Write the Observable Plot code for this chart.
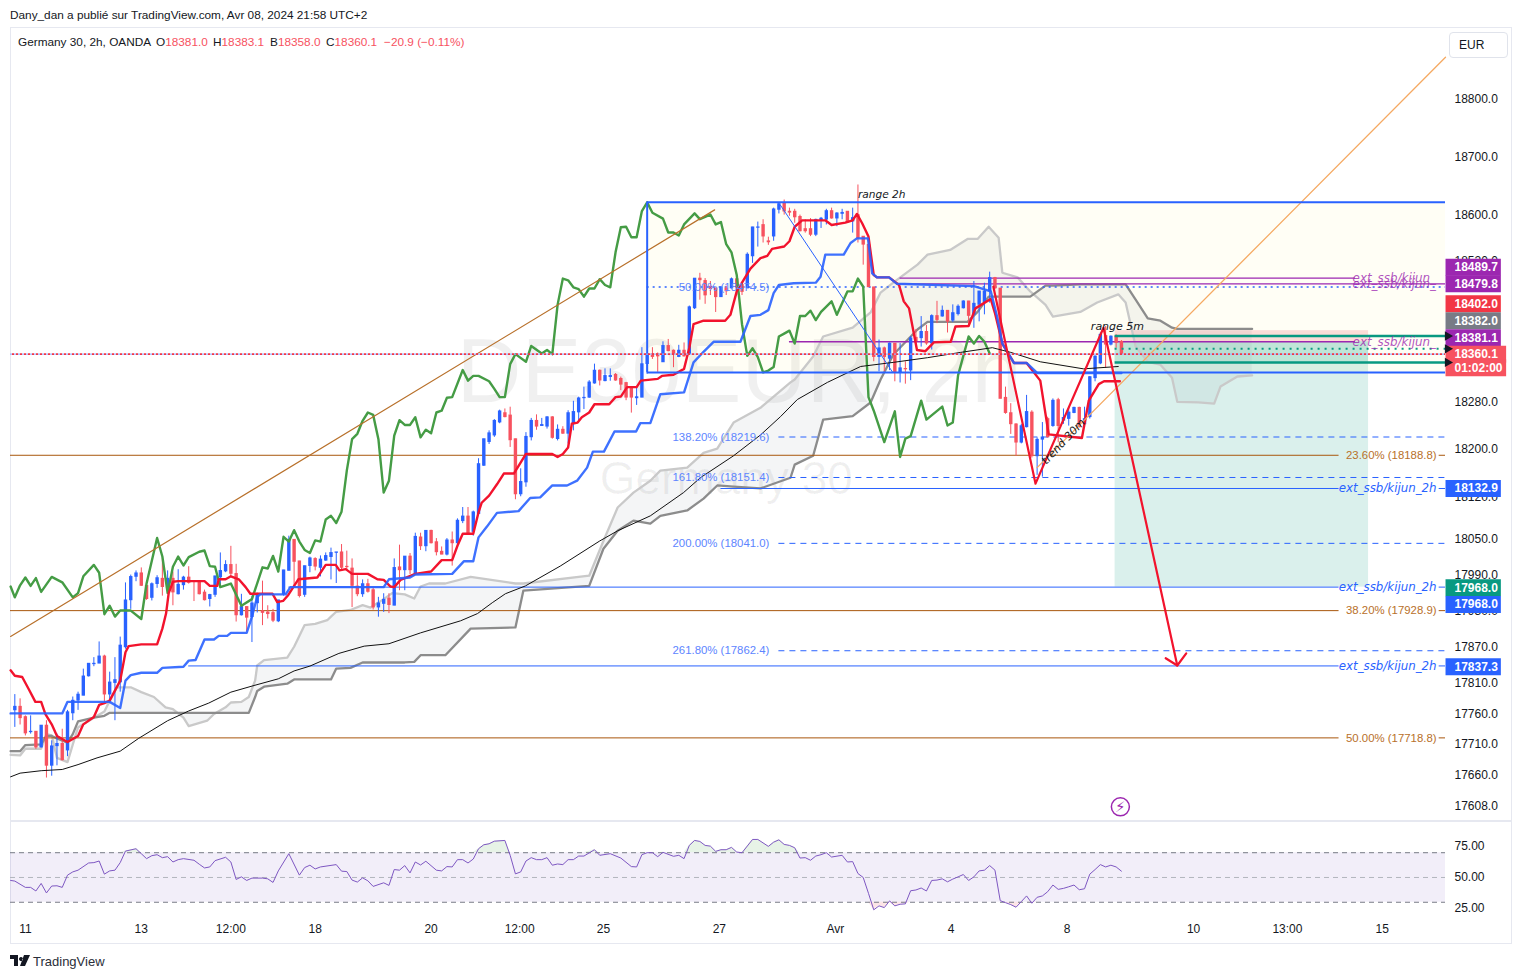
<!DOCTYPE html>
<html lang="fr"><head><meta charset="utf-8">
<script src="https://cdn.jsdelivr.net/npm/d3@7"></script>
<script src="https://cdn.jsdelivr.net/npm/@observablehq/plot@0.6"></script>
<style>
html,body{margin:0;padding:0;background:#fff;overflow:hidden;font-family:"Liberation Sans",sans-serif;color:#131722}
#page{position:relative;width:1521px;height:979px}
#page>*{position:absolute}
#frame{left:10px;top:27px;width:1500px;height:915px;border:1.5px solid #e6e8f0}
#sep{left:10px;top:820px;width:1501px;height:1.5px;background:#e6e8f0}
#pub{left:10px;top:8px;font-size:11.8px;white-space:nowrap}
#legend{left:0;top:35px;font-size:11.8px;height:15px;width:500px}
#legend span{position:absolute;white-space:nowrap}
#legend .r{color:#f7525f}
#cur{left:1449px;top:32px;width:57px;height:24px;border:1px solid #e0e3eb;border-radius:4px;font-size:12px;line-height:24px;text-indent:9px}
#foot{left:33px;top:954px;font-size:13px;color:#2a2e39}
#logo{left:10px;top:955px}
svg.plot{background:transparent;max-width:none;overflow:visible}
</style></head><body>
<div id="page">
<div id="frame"></div>
<div id="main" style="left:0;top:0"></div>
<div id="rsi" style="left:0;top:820px"></div>
<div id="sep"></div>
<div id="pub">Dany_dan a publié sur TradingView.com, Avr 08, 2024 21:58 UTC+2</div>
<div id="legend">
<span style="left:18px">Germany 30, 2h, OANDA</span>
<span style="left:156px">O<b class="r" style="font-weight:400">18381.0</b></span>
<span style="left:213px">H<b class="r" style="font-weight:400">18383.1</b></span>
<span style="left:270px">B<b class="r" style="font-weight:400">18358.0</b></span>
<span style="left:326px">C<b class="r" style="font-weight:400">18360.1</b></span>
<span class="r" style="left:384px">−20.9 (−0.11%)</span>
</div>
<div id="cur">EUR</div>
<svg id="logo" width="20" height="11" viewBox="0 0 20 11"><path d="M0 0h8v11H4V4H0zM9 4a2 2 0 1 0 0-.1zM14 0h6l-5 11h-5z" fill="#131722"/></svg>
<div id="foot">TradingView</div>
</div>
<script>
const FONT = '"Liberation Sans", sans-serif';
const ITALIC = '"DejaVu Sans", sans-serif';

// ---------- candles (2h bars, bar index 0..210)
const open = [17764,17770,17753,17728,17729,17703,17739,17673,17705,17709,17698,17759,17780,17788,17820,17840,17841,17853,17790,17809,17810,17868,17946,17985,17991,17970,17950,17973,17982,17966,17982,17956,17971,17984,17978,17976,17959,17948,17955,17984,17994,18005,17990,17921,17935,17918,17941,17928,17926,17925,17911,17956,17995,18047,18011,17955,18003,18015,18000,18012,18018,18025,18026,18002,17999,17969,17956,17973,17963,17934,17940,17949,17937,18001,17996,18019,17990,
18051,18036,18062,18043,18027,18022,18046,18041,18078,18086,18060,18090,18171,18211,18222,18244,18260,18256,18216,18123,18143,18219,18247,18238,18237,18253,18216,18232,18225,18242,18261,18285,18286,18310,18332,18314,18321,18325,18318,18311,18304,18285,18286,18343,18360,18360,18346,18374,18366,18355,18366,18360,18438,18489,18485,18475,18472,18457,18472,18472,18488,18478,18472,18527,18576,
18581,18553,18561,18607,18618,18604,18604,18595,18574,18574,18564,18589,18590,18605,18592,18600,18604,18587,18598,18561,18547,18474,18355,18370,18352,18378,18328,18335,18332,18388,18387,18398,18378,18425,18424,18434,18417,18428,18438,18450,18427,18444,18448,18467,18490,18472,18286,18260,18241,18210,18236,18261,18187,18215,18250,18238,18282,18247,18250,18260,18269,18241,18253,18319,18344,18391,18376,18390,18381];
const close = [17770,17751,17726,17729,17703,17739,17673,17705,17709,17682,17761,17780,17790,17820,17841,17841,17853,17790,17810,17814,17871,17946,17985,17991,17970,17948,17973,17983,17968,17982,17959,17972,17984,17975,17977,17956,17946,17955,17986,17995,18005,17990,17921,17935,17917,17941,17955,17925,17923,17912,17946,17996,18047,18010,17953,18003,18016,18002,18014,18020,18025,18026,18000,18001,17970,17956,17973,17960,17934,17941,17947,17938,18000,17996,18019,17996,18052,
18036,18062,18041,18026,18022,18046,18041,18079,18086,18057,18093,18174,18216,18226,18247,18263,18253,18214,18123,18144,18220,18247,18237,18240,18253,18218,18232,18225,18260,18262,18285,18286,18312,18332,18315,18323,18323,18315,18308,18286,18286,18287,18343,18360,18355,18356,18374,18365,18359,18366,18356,18440,18489,18486,18460,18471,18457,18474,18467,18488,18472,18466,18530,18577,18577,
18561,18551,18608,18617,18604,18602,18594,18570,18570,18564,18590,18592,18605,18592,18601,18602,18585,18593,18558,18547,18474,18355,18370,18355,18378,18328,18336,18334,18387,18382,18398,18378,18425,18418,18434,18415,18430,18441,18450,18425,18446,18467,18467,18490,18472,18284,18260,18241,18210,18238,18262,18187,18215,18219,18219,18281,18238,18252,18261,18269,18236,18250,18321,18356,18393,18376,18390,18379,18360.1];
const high = [17790,17783,17755,17755,17729,17739,17747,17714,17725,17733,17764,17786,17794,17832,17841,17851,17877,17855,17827,17851,17885,17975,17988,17995,18000,17972,17975,17987,18016,17995,17993,17997,17986,18002,17979,17977,17963,17956,17986,18025,18012,18036,18006,17956,17935,17953,17958,17978,17937,17931,17946,17996,18053,18047,18011,18003,18018,18017,18020,18025,18033,18026,18039,18028,18015,17987,17980,17981,17966,17951,17957,17957,18015,18038,18019,18024,18058,
18058,18062,18063,18049,18035,18049,18060,18082,18101,18101,18095,18183,18216,18230,18249,18265,18267,18270,18216,18166,18227,18251,18257,18251,18254,18254,18240,18237,18264,18280,18287,18304,18315,18343,18333,18335,18335,18327,18321,18312,18304,18304,18371,18362,18371,18362,18381,18385,18367,18375,18379,18442,18489,18498,18489,18484,18473,18475,18476,18490,18492,18480,18533,18577,18586,
18590,18560,18610,18618,18624,18610,18608,18598,18590,18592,18591,18594,18608,18610,18602,18608,18604,18610,18650,18561,18550,18474,18384,18372,18379,18378,18378,18347,18390,18402,18424,18409,18427,18450,18442,18434,18444,18444,18451,18450,18484,18467,18481,18500,18491,18472,18304,18276,18242,18241,18290,18264,18218,18244,18253,18284,18285,18267,18270,18270,18270,18270,18322,18357,18396,18407,18391,18393,18383.1];
const low = [17736,17740,17722,17725,17700,17702,17653,17656,17673,17681,17688,17747,17764,17788,17819,17836,17841,17775,17775,17747,17794,17865,17931,17977,17969,17946,17945,17966,17953,17965,17937,17955,17963,17973,17944,17955,17945,17935,17951,17966,17992,17986,17910,17920,17894,17876,17925,17904,17915,17909,17909,17953,17995,17970,17950,17951,17992,17995,17985,18011,17980,17974,17995,17995,17934,17952,17951,17958,17930,17918,17926,17924,17937,17962,17962,17989,17990,
18029,18027,18040,18020,18022,18020,18003,18035,18074,18057,18053,18090,18170,18207,18219,18242,18252,18202,18114,18119,18135,18213,18231,18238,18233,18216,18213,18224,18208,18230,18247,18266,18285,18309,18306,18313,18314,18314,18298,18281,18260,18273,18286,18326,18351,18329,18346,18364,18337,18354,18355,18360,18436,18452,18445,18460,18431,18457,18460,18471,18460,18460,18472,18515,18543,
18550,18546,18553,18600,18598,18596,18584,18569,18567,18561,18561,18575,18581,18591,18578,18590,18584,18567,18550,18512,18474,18347,18330,18330,18332,18313,18311,18309,18315,18378,18372,18375,18367,18412,18423,18396,18414,18425,18437,18407,18404,18415,18427,18447,18470,18284,18258,18224,18187,18208,18235,18184,18155,18152,18218,18236,18210,18241,18238,18259,18235,18235,18250,18313,18342,18336,18374,18370,18358];

// ---------- Ichimoku and moving average (bar index, price)
const tenkanX = [-0.8,0,1.4,2.7,3.9,5,5.8,7,8,10,12,13,15,16,17,18,20,21,21.6,24,27,28,28.7,29.2,30,31,36,37,38.4,38.7,40,41,42.5,43.8,44.7,48.9,49.8,50.9,51.9,53.8,57.4,59,60.9,61.6,62.8,64,67,68.8,70,71.3,72,73.2,76,79,81,83,84,85,87,88,88.6,90,91.5,92.8,94.7,97,102,103,104,105,105.7,106.8,107.6,109,110,112.8,114,115,116.2,118,118.8,122,122.8,125,127,128,128.8,130.7,134.8,135.8,137,139.6,141.5,142.8,143.7,146,147,148,149.4,153.8,155,157.6,159,159.8,160.8,162,163,163.6,165.9,167.8,168.7,169.7,171.2,172.8,174.4,177.6,178.5,181,182.3,183.9,185.2,186,187.4,189.6,192,194.6,196.2,202.5,203.8,205.7,206.7,209.7];
const tenkanP = [17830,17821,17819,17798,17778,17778,17758,17741,17722,17712,17722,17741,17753,17773,17776,17780,17813,17860,17870,17873,17873,17899,17924,17958,17977,17978,17978,17970,17970,17981,17981,17986,17981,17968,17957,17957,17943,17945,17955,17981,17984,18005,18005,17996,17998,17990,17990,17981,17980,17969,17968,17980,17990,17994,18013,18013,18037,18057,18057,18093,18109,18121,18140,18158,18158,18191,18191,18186,18191,18202,18242,18244,18253,18261,18275,18275,18287,18288,18304,18304,18315,18318,18323,18325,18335,18371,18411,18417,18417,18427,18467,18506,18524,18528,18540,18544,18553,18578,18589,18589,18581,18585,18589,18600,18584,18561,18495,18491,18491,18478,18450,18438,18367,18365,18380,18381,18407,18408,18438,18447,18454,18430,18378,18345,18345,18315,18224,18218,18281,18309,18314,18314];
const kijunX = [-0.8,9,10,18,20,21,22,24,27,28,32,33,34.3,36,37.8,38.7,40.3,41,44,45,46,46.6,51.4,52.3,70,71,75,76,83,85.2,87,88,89.6,91.5,95.6,97.8,99.7,102,104.8,106.7,108.6,109.7,111.8,113.8,117.9,118.7,120.6,122.5,127,128.8,130.7,132.6,137.7,139.6,141.5,143,144,145,147.8,152,152.9,153.8,157.3,158.6,159.8,161.9,162.7,163.6,165.9,167.4,182,185.2,186.4,187.4,189.6,192,194,210];
const kijunP = [17759,17759,17778,17778,17768,17813,17822,17826,17826,17834,17836,17846,17847,17881,17881,17887,17887,17892,17892,17919,17952,17956,17956,17968,17968,17981,17984,17989,17990,18011,18011,18051,18069,18092,18095,18117,18118,18138,18138,18146,18168,18195,18195,18229,18229,18243,18243,18292,18295,18346,18364,18381,18381,18425,18427,18435,18464,18478,18481,18482,18492,18530,18530,18550,18558,18558,18498,18491,18491,18480,18476,18467,18424,18378,18345,18345,18328,18328];
const chikouX = [-0.8,0,1,2,3,4,5,7,9,11,12,13,15,16,17,18,19,20,22,24,25,27,28,29,30,31,32,33,35,36,37,38,39,41,43,45,47,48,49,50,51,52,53,54,55,56,57,58,59,60,61,62,63,64,65,66,67,68,69,70,71,72,73,74,75,76,77,78,79,80,81,82,83,85,86,87,88,90,91,92,93,94,95,97,98,100,101,102,103,104,105,106,107,108,109,110,111,112,113,114,115,116,117,118,119,120,121,123,124,125,126,127,129,130,132,133,134,135,136,137,138,139,140,141,142,143,144,145,146,147,148,149,150,151,152,153,155,156,158,159,160,161,162,163,165,167,168,169,170,172,173,176,177,178,179,181,182,183,184,185];
const chikouP = [17969,17951,17971,17984,17970,17983,17960,17985,17976,17951,17958,17986,18005,17992,17923,17937,17919,17929,17929,17915,17974,18050,18019,17958,18002,18019,18004,18018,18027,18029,18003,18002,17968,17974,17937,17948,18001,17999,18020,17994,18052,18044,18063,18044,18030,18025,18046,18044,18081,18087,18075,18094,18163,18216,18225,18247,18261,18257,18216,18126,18146,18222,18248,18240,18240,18253,18219,18232,18226,18261,18264,18286,18287,18333,18315,18323,18323,18314,18301,18287,18287,18343,18360,18347,18374,18361,18367,18360,18444,18489,18486,18474,18471,18458,18472,18472,18488,18478,18474,18534,18577,18578,18560,18560,18605,18620,18602,18592,18568,18568,18563,18582,18601,18591,18599,18582,18586,18548,18534,18495,18411,18357,18370,18355,18329,18332,18338,18390,18395,18400,18378,18425,18425,18434,18418,18432,18450,18427,18467,18467,18489,18475,18287,18264,18211,18263,18186,18217,18221,18281,18249,18271,18239,18244,18324,18390,18378,18391,18381,18361];
const cloudX = [-0.8,1,2,5,6,7,8,10,11,12,15,17,18,19.4,22,24,26.4,28.6,30,32,33,36.5,37.8,40,41,43,44.4,45.6,46,47.3,51.7,53,55,57,59.3,60,61,63.7,66,67.5,70,71.6,74,75.8,77,78.6,81.7,86.5,95,96.5,109,111.7,114.4,117.4,120.6,122.5,127.6,130.7,133.3,136.4,141.5,147.2,148,151.5,153.4,159,162.4,164.3,166.7,171.3,173.2,177.5,180.8,182.7,184.8,186.7,187.4,190.3,192.7,195.6,197,202.2,205.4,209.4,210.8,212.7,215,217.4,219.6,220.6,224.6,227.6,228.8,232,234.8];
const spanA = [17691,17690,17701,17701,17725,17723,17686,17679,17708,17736,17752,17762,17780,17802,17802,17794,17786,17769,17766,17752,17738,17747,17758,17769,17777,17778,17786,17813,17838,17847,17851,17869,17905,17907,17913,17919,17927,17930,17938,17934,17948,17958,17956,17949,17969,17974,17974,17985,17974,17974,17987,18045,18101,18126,18146,18163,18168,18193,18200,18244,18269,18312,18317,18356,18390,18405,18431,18465,18482,18513,18530,18538,18557,18557,18578,18559,18499,18491,18467,18444,18424,18432,18448,18462,18448,18373,18347,18342,18320,18279,18278,18276,18305,18322,18324];
const spanB = [17697,17697,17707,17708,17722,17722,17718,17711,17725,17746,17752,17755,17760,17760,17760,17760,17760,17760,17760,17760,17760,17760,17760,17760,17760,17760,17760,17786,17796,17803,17808,17815,17815,17815,17815,17815,17833,17834,17843,17843,17843,17843,17843,17844,17855,17855,17855,17899,17901,17962,17970,18032,18062,18079,18074,18087,18096,18116,18138,18136,18133,18151,18173,18188,18249,18255,18278,18317,18359,18402,18415,18415,18415,18432,18458,18458,18458,18458,18458,18477,18477,18479,18479,18479,18479,18453,18421,18417,18405,18403,18403,18403,18403,18403,18403];
const emaX = [-0.8,1,5,9,12,15.6,20,23.5,29,33,36.8,41,45.4,50,53,56,61.5,66.3,71,77,84.6,87.8,90.6,93.1,96.9,103.5,111,114.4,120.6,126.9,130.1,136.4,141.5,145.3,148.5,154.2,160.5,166.7,173.2,179.5,185.5,189,194.6,202.8,209.4];
const emaP = [17655,17661,17665,17667,17675,17686,17697,17718,17747,17763,17776,17794,17805,17816,17829,17837,17858,17870,17874,17892,17912,17924,17942,17957,17970,18003,18045,18062,18087,18126,18151,18188,18223,18254,18283,18312,18339,18346,18354,18363,18371,18363,18347,18335,18339];

// ---------- drawings
const rangeTop = 18620, rangeMid = 18474.5, rangeBottom = 18329;
const fibPrice = [18219.6,18151.4,18041.0,17862.4];
const fibText = ["138.20% (18219.6)","161.80% (18151.4)","200.00% (18041.0)","261.80% (17862.4)"];
const retrPrice = [18188.8,17928.9,17718.8];
const retrText = ["23.60% (18188.8)","38.20% (17928.9)","50.00% (17718.8)"];
const extPrice = [18132.9,17968.0,17837.3];
const extStart = [134,52,33];
const purplePrice = [18489.7,18479.8,18381.1];
const purpleStart = [168,168,147];
const zigX = [185.7,193.7,206.6,220.6], zigP = [18475,18141,18405,17838];
const wingX = [218.4,220.6,222.3], wingP = [17850,17838,17858];
const greenLevels = [18391,18346];
const greenMid = 18369;
const lastPrice = 18360.1;

// ---------- price scale
const priceTicks = [18800,18700,18600,18520,18280,18200,18120,18050,17990,17930,17870,17810,17760,17710,17660,17608];
const labelText = ["18489.7","18479.8","18402.0","18382.0","18381.1","18360.1","01:02:00","18132.9","17968.0","17968.0","17837.3"];
const labelPrice = [18508.6,18480,18446,18417,18388,18360,18337,18133,17967,17939,17836];
const labelColor = ["#9c27b0","#9c27b0","#f23645","#787b86","#9c27b0","#f7525f","#f7525f","#2962ff","#089981","#2962ff","#2962ff"];
const labelEnd = [282.1,282.1,282.1,282.1,282.1,283.1,283.1,282.1,282.1,282.1,282.1];

// ---------- RSI
const rsiX = [-0.8,0,2,3,4,5,6,7,8,9,10,11,12,14,15,16,17,18,19,20,21,23,24,25,26,27,28,29,30,31,32,34,35,36,37,38,40,41,42,43,44,45,47,48,49,50,52,54,55,56,57,58,61,62,63,64,65,66,67,68,70,71,72,73,74,75,76,77,78,80,81,82,83,84,85,86,87,88,89,90,91,93,94,95,96,97,98,99,100,101,102,103,104,105,106,107,108,110,111,113,115,117,118,119,120,121,122,123,125,126,127,128,129,130,131,132,133,134,135,136,137,138,140,141,143,144,145,146,147,148,149,150,151,152,153,154,155,157,158,159,160,161,162,163,164,165,166,167,168,169,170,171,172,173,174,175,176,177,178,179,180,181,182,183,184,185,186,187,188,189,190,191,192,193,194,195,196,197,198,199,200,201,202,203,204,205,206,207,208,209,210];
const rsiV = [47.6,47.1,42,42,39.1,45.2,37.5,43.1,43.3,42,51.9,54.5,55.9,61.7,62,63.3,52.7,55.3,55.9,62,71.3,73.2,69.2,65.2,67.6,68.4,66,66.8,62.5,64.4,65.2,63.9,60.7,57.7,58.5,63.6,66.3,62.5,48.4,50.5,47.6,49.5,49.5,48.9,46,55.3,69.2,51.9,58,59.9,56.9,58.5,60.4,55.1,54.8,47.9,46.3,49.7,47.3,42.8,45.7,43.6,56.4,55.9,59.6,53.7,62.5,60.1,63.1,55.9,55.3,58.8,58.5,64.4,64.4,61.7,64.9,73.2,76.4,77.2,79.3,79.9,67.9,52.9,54.5,63.3,66,64.4,64.4,66,59.9,60.9,60.4,64.4,64.4,67.3,67.3,72.4,67.9,69.2,65.7,58.8,58.5,68.4,70,70,66.8,70.3,67.1,67.9,65.2,75.9,79.9,79.1,75.9,75.3,71.1,72.4,72.4,74.3,70.5,70,80.7,80.7,75.1,78.5,80.4,76.7,75.9,74,65.7,66,63.9,67.3,68.4,70,66.5,67.9,62.5,62.8,53.2,50,37.2,23.9,27.1,25.7,31.1,27.1,28.4,28.7,39.3,39.9,41.5,39.1,47.6,47.9,48.9,46.5,48.7,50.5,52.4,47.6,50.5,55.3,55.9,59.6,55.9,31.3,29.7,28.1,26,30.5,35.1,29.2,34,35.1,38.5,43.9,40.4,41.2,42.5,43.9,40.1,40.9,52.7,56.4,60.4,58.5,59.9,58.5,55.1];
const rsiBands = [70,50,30];
const rsiTicks = [75,50,25];

// ---------- time axis
const timeTicks = [2,24,41,57,79,95.8,111.7,133.7,155.7,177.7,199.7,223.7,241.5,259.5];
const timeLabels = ["11","13","12:00","18","20","12:00","25","27","Avr","4","8","10","13:00","15"];

// ---------- colours
const UP = "#2962ff", DOWN = "#f7525f", LINE_RED = "#f2132d", BLUE = "#2962ff", GREEN = "#459c45", BROWN = "#a8560c", PURPLE = "#9c27b0", TEAL = "#089981";
const X_MIN = -0.82, X_MAX = 271.5;

const bars = open.map((o,i)=>({i,o,c:close[i],h:high[i],l:low[i],col:close[i]>=o?UP:DOWN}));
const series = (xs,ps)=>xs.map((x,k)=>({x,p:ps[k]}));
const cloud = cloudX.map((x,k)=>({x,a:spanA[k],b:spanB[k]}));
const rules = (levels,color,opts={})=>Plot.ruleY(levels,{x1:opts.x1??X_MIN,x2:opts.x2??X_MAX,stroke:color,strokeWidth:opts.w??1,strokeDasharray:opts.dash,strokeDashoffset:opts.off});

const main = Plot.plot({
  width:1521,height:820,marginLeft:10,marginRight:76,marginTop:28,marginBottom:0,
  style:{fontFamily:FONT,fontSize:"12px",color:"#131722",background:"transparent"},
  x:{domain:[X_MIN,X_MAX],axis:null},
  y:{type:"log",domain:[17583.7,18922.3],label:null,axis:null},
  marks:[
    // range box and position
    Plot.rect([0],{x1:120,x2:X_MAX,y1:rangeBottom,y2:rangeTop,fill:"#fffef5"}),
    Plot.rect([0],{x1:208.8,x2:256.9,y1:18381,y2:18400,fill:"#f23645",fillOpacity:0.17}),
    Plot.rect([0],{x1:208.8,x2:256.9,y1:17968,y2:18381,fill:TEAL,fillOpacity:0.15}),
    Plot.rect([0],{x1:208.8,x2:256.9,y1:18346,y2:18381,fill:TEAL,fillOpacity:0.12}),
    // watermark
    Plot.text(["DE30EUR, 2h"],{x:[83.8],y:[18327],text:d=>d,textAnchor:"start",fontSize:90,fill:"#000",fillOpacity:0.06}),
    Plot.text(["Germany 30"],{x:[111],y:[18148],text:d=>d,textAnchor:"start",fontSize:46,fill:"#000",fillOpacity:0.06}),
    // cloud
    Plot.areaY(cloud,{x:"x",y1:"a",y2:"b",fill:"#787b86",fillOpacity:0.08}),
    Plot.lineY(cloud,{x:"x",y:"a",stroke:"#c9c9c9",strokeWidth:2.3}),
    Plot.lineY(cloud,{x:"x",y:"b",stroke:"#8c8c8c",strokeWidth:2.3}),
    // horizontal levels
    rules(retrPrice,BROWN,{x2:251.3}),
    rules(retrPrice,BROWN,{x1:270.3}),
    rules(extPrice.slice(0,1),BLUE,{x1:extStart[0],x2:251.3}),
    rules(extPrice.slice(1,2),BLUE,{x1:extStart[1],x2:251.3}),
    rules(extPrice.slice(2,3),BLUE,{x1:extStart[2],x2:251.3}),
    rules(extPrice,BLUE,{x1:270.3}),
    rules(fibPrice,BLUE,{x1:145,dash:"6 5"}),
    rules([rangeMid],BLUE,{x1:120,w:1.5,dash:"2 4"}),
    rules(purplePrice.slice(0,1),PURPLE,{x1:purpleStart[0],x2:254.4,w:1.3}),
    rules(purplePrice.slice(1,2),PURPLE,{x1:purpleStart[1],w:1.3}),
    rules(purplePrice.slice(2,3),PURPLE,{x1:purpleStart[2],x2:254.4,w:1.3}),
    // candles
    Plot.ruleX(bars,{x:"i",y1:"l",y2:"h",stroke:"col",strokeWidth:1}),
    Plot.ruleX(bars,{x:"i",y1:d=>Math.min(d.o,d.c)-0.6,y2:d=>Math.max(d.o,d.c)+0.6,stroke:"col",strokeWidth:3.4}),
    // indicators
    Plot.line(series(chikouX,chikouP),{x:"x",y:"p",stroke:GREEN,strokeWidth:2.4}),
    Plot.line(series(tenkanX,tenkanP),{x:"x",y:"p",stroke:LINE_RED,strokeWidth:2.4}),
    Plot.line(series(kijunX,kijunP),{x:"x",y:"p",stroke:BLUE,strokeWidth:2.4,strokeOpacity:0.9}),
    Plot.line(series(emaX,emaP),{x:"x",y:"p",stroke:"#111",strokeWidth:1}),
    // trend lines
    Plot.line([{x:-0.8,p:17886},{x:132.8,p:18607}],{x:"x",y:"p",stroke:"#b8702a",strokeWidth:1.2}),
    Plot.line([{x:194,p:18168},{x:271.5,p:18872}],{x:"x",y:"p",stroke:"#f5a962",strokeWidth:1.3}),
    Plot.line([{x:145.3,p:18615},{x:166.6,p:18329}],{x:"x",y:"p",stroke:BLUE,strokeWidth:1}),
    // range borders
    rules([rangeTop,rangeBottom],BLUE,{x1:120,w:2}),
    Plot.ruleX([120],{y1:rangeBottom,y2:rangeTop,stroke:BLUE,strokeWidth:2}),
    // range 5m levels
    rules(greenLevels,TEAL,{x1:208.8,w:2.5}),
    rules([greenMid],TEAL,{x1:208.8,w:2,dash:"2 5"}),
    rules([lastPrice],"#9db0ff",{dash:"2 2",w:1.2}),
    rules([lastPrice],"#f23645",{dash:"2 2",off:2,w:1.8}),
    // zigzag and arrow
    Plot.line(series(zigX,zigP),{x:"x",y:"p",stroke:LINE_RED,strokeWidth:2.2}),
    Plot.line(series(wingX,wingP),{x:"x",y:"p",stroke:LINE_RED,strokeWidth:2.2}),
    // drawing texts
    Plot.text(fibText,{x:124.8,y:(d,i)=>fibPrice[i],text:d=>d,textAnchor:"start",fill:"#5d85ff",fontSize:11.4}),
    Plot.text(["50.00% (18474.5)"],{x:126,y:[rangeMid],text:d=>d,textAnchor:"start",fill:"#5d85ff",fontSize:11.4}),
    Plot.text(retrText,{x:269.8,y:(d,i)=>retrPrice[i],text:d=>d,textAnchor:"end",fill:"#b8702a",fontSize:11.4}),
    Plot.text(extPrice,{x:269.8,y:d=>d,text:()=>"ext_ssb/kijun_2h",textAnchor:"end",fill:BLUE,fontStyle:"italic",fontFamily:ITALIC,fontSize:11.8}),
    Plot.text(purplePrice,{x:269.7,y:d=>d,text:()=>"ext_ssb/kijun_",textAnchor:"end",fill:PURPLE,fontStyle:"italic",fontFamily:ITALIC,fontSize:11.9,fillOpacity:0.8}),
    Plot.text(["range 2h"],{x:[160],y:[18634],text:d=>d,textAnchor:"start",fontStyle:"italic",fontFamily:ITALIC,fontSize:10.6,fill:"#131722"}),
    Plot.text(["range 5m"],{x:[204.2],y:[18407],text:d=>d,textAnchor:"start",fontStyle:"italic",fontFamily:ITALIC,fontSize:11,fill:"#131722"}),
    Plot.text(["trend 30m"],{x:[199],y:[18212],text:d=>d,rotate:-47,fontStyle:"italic",fontFamily:ITALIC,fontSize:11,fill:"#131722"}),
    // lightning flag
    Plot.dot([0],{x:[209.8],y:[17606],r:9,stroke:PURPLE,strokeWidth:1.5,fill:"#fff"}),
    Plot.text(["⚡"],{x:[209.8],y:[17606],text:d=>d,fontFamily:'"DejaVu Sans"',fontSize:15,fill:PURPLE}),
    // price axis
    Plot.axisY({anchor:"right",ticks:priceTicks,tickSize:0,tickPadding:9,dy:1,tickFormat:d3.format(".1f"),label:null,fontSize:12}),
    Plot.ruleY(labelPrice,{x1:271.6,x2:(d,i)=>labelEnd[i],stroke:(d,i)=>labelColor[i],strokeWidth:17}),
    Plot.text(labelText,{x:273.2,y:(d,i)=>labelPrice[i],text:d=>d,textAnchor:"start",fill:"#fff",fontWeight:700}),
    Plot.dot([18391,18369,18346],{x:271.9,y:d=>d,symbol:"triangle",r:3.5,rotate:90,fill:"#131722"})
  ]
});
document.getElementById("main").append(main);

const rsiData = rsiX.map((x,k)=>({x,v:rsiV[k]}));
const rsi = Plot.plot({
  width:1521,height:123,marginLeft:10,marginRight:76,marginTop:0,marginBottom:27,
  style:{fontFamily:FONT,fontSize:"12px",color:"#131722",background:"transparent"},
  x:{domain:[X_MIN,X_MAX],axis:null},
  y:{domain:[18.5,96],label:null,axis:null},
  marks:[
    Plot.rect([0],{x1:X_MIN,x2:X_MAX,y1:rsiBands[2],y2:rsiBands[0],fill:"#7e57c2",fillOpacity:0.1}),
    Plot.areaY(rsiData,{x:"x",y1:rsiBands[0],y2:d=>Math.max(d.v,rsiBands[0]),fill:"#43a047",fillOpacity:0.13}),
    Plot.areaY(rsiData,{x:"x",y1:rsiBands[2],y2:d=>Math.min(d.v,rsiBands[2]),fill:"#f23645",fillOpacity:0.13}),
    Plot.ruleY([rsiBands[0],rsiBands[2]],{stroke:"#787b86",strokeDasharray:"5 4"}),
    Plot.ruleY([rsiBands[1]],{stroke:"#b2b5be",strokeDasharray:"5 4"}),
    Plot.line(rsiData,{x:"x",y:"v",stroke:"#7e57c2",strokeWidth:1}),
    Plot.axisY({anchor:"right",ticks:rsiTicks,tickSize:0,tickPadding:9,tickFormat:d3.format(".2f"),label:null}),
    Plot.axisX({anchor:"bottom",ticks:timeTicks,tickSize:0,tickPadding:8,label:null,tickFormat:d=>timeLabels[timeTicks.indexOf(d)]})
  ]
});
document.getElementById("rsi").append(rsi);
</script>
</body></html>
